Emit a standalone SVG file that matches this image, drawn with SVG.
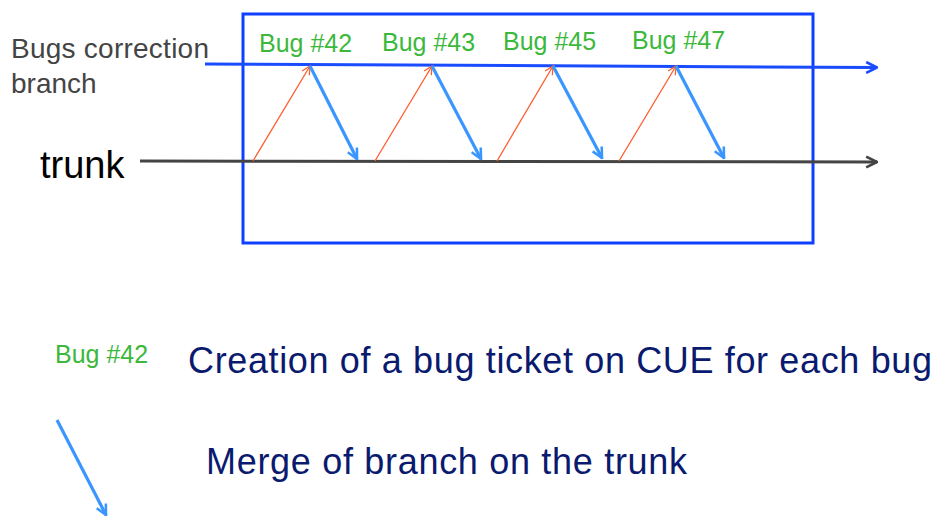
<svg xmlns="http://www.w3.org/2000/svg" width="945" height="532" viewBox="0 0 945 532">
<style>
.bug{font-family:"Liberation Sans",Arial,sans-serif;font-size:25px;fill:#3cb83c}
.leg{font-family:"Liberation Sans",Arial,sans-serif;font-size:36px;fill:#0a1a6e}
.create{stroke:#ff5a2a;stroke-width:1.3;fill:none}
.merge{stroke:#3a96ff;stroke-width:3.2;fill:none}
</style>
<defs>
<marker id="mBlue" viewBox="0 0 10 10" refX="9" refY="5" markerWidth="4.5" markerHeight="4.5" markerUnits="strokeWidth" orient="auto"><path d="M1,1 L9,5 L1,9" fill="none" stroke="#1a4cff" stroke-width="2"/></marker>
<marker id="mGray" viewBox="0 0 10 10" refX="9" refY="5" markerWidth="4.5" markerHeight="4.5" markerUnits="strokeWidth" orient="auto"><path d="M1,1 L9,5 L1,9" fill="none" stroke="#444" stroke-width="2"/></marker>
<marker id="mRed" viewBox="0 0 10 10" refX="9" refY="5" markerWidth="8" markerHeight="8" markerUnits="strokeWidth" orient="auto"><path d="M1,1 L9,5 L1,9" fill="none" stroke="#ff5a2a" stroke-width="1.2"/></marker>
<marker id="mMerge" viewBox="0 0 10 10" refX="9" refY="5" markerWidth="4" markerHeight="4" markerUnits="strokeWidth" orient="auto"><path d="M1,1 L9,5 L1,9" fill="none" stroke="#3a96ff" stroke-width="2"/></marker>
</defs>
<g id="frame"><rect x="243" y="14" width="570" height="229" fill="none" stroke="#1040ff" stroke-width="3"/></g>
<g id="branch-label"><text font-family="Liberation Sans,Arial,sans-serif" font-size="28" fill="#444"><tspan x="11" y="58" textLength="198">Bugs correction</tspan><tspan x="11" y="93">branch</tspan></text></g>
<g id="trunk-label"><text x="40" y="178" font-family="Liberation Sans,Arial,sans-serif" font-size="38" fill="#000">trunk</text></g>
<g id="bug42"><text class="bug" x="259" y="52">Bug #42</text></g>
<g id="bug43"><text class="bug" x="382" y="51">Bug #43</text></g>
<g id="bug45"><text class="bug" x="503" y="50">Bug #45</text></g>
<g id="bug47"><text class="bug" x="632" y="49">Bug #47</text></g>
<g id="connectors">
<line x1="205" y1="64" x2="877" y2="67.5" stroke="#1a4cff" stroke-width="3" marker-end="url(#mBlue)"/>
<line x1="140" y1="161" x2="877" y2="162" stroke="#444" stroke-width="3" marker-end="url(#mGray)"/>
<line class="create" x1="253" y1="161" x2="310" y2="66" marker-end="url(#mRed)"/>
<line class="create" x1="375" y1="161" x2="432" y2="66" marker-end="url(#mRed)"/>
<line class="create" x1="497" y1="161" x2="553" y2="66" marker-end="url(#mRed)"/>
<line class="create" x1="619" y1="161" x2="676" y2="66" marker-end="url(#mRed)"/>
<line class="merge" x1="310" y1="66" x2="357" y2="159" marker-end="url(#mMerge)"/>
<line class="merge" x1="432" y1="66" x2="481" y2="159" marker-end="url(#mMerge)"/>
<line class="merge" x1="553" y1="66" x2="602" y2="158" marker-end="url(#mMerge)"/>
<line class="merge" x1="676" y1="66" x2="724" y2="158" marker-end="url(#mMerge)"/>
<line class="merge" x1="57" y1="420" x2="106" y2="515" marker-end="url(#mMerge)"/>
</g>
<g id="legend-bug"><text class="bug" x="55" y="363">Bug #42</text></g>
<g id="legend-create"><text class="leg" x="188" y="373" textLength="744">Creation of a bug ticket on CUE for each bug</text></g>
<g id="legend-merge"><text class="leg" x="206" y="474" textLength="481">Merge of branch on the trunk</text></g>
</svg>
